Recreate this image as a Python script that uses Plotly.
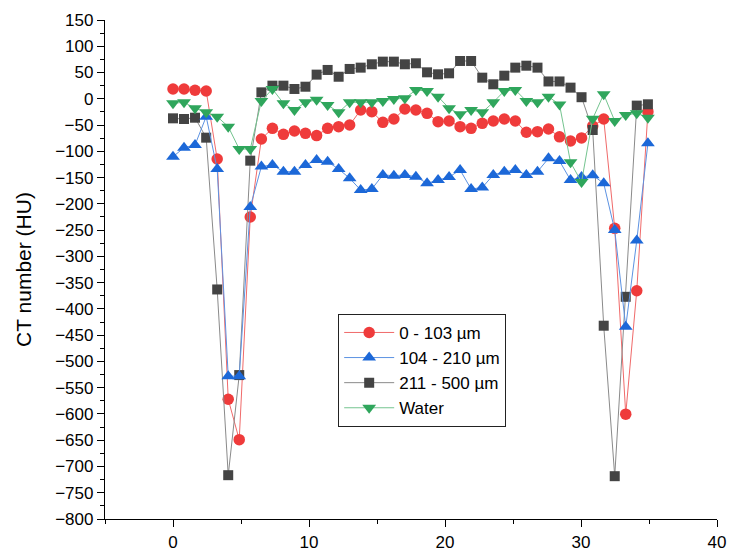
import plotly.graph_objects as go

x_pos = [0, 0.81, 1.62, 2.44, 3.25, 4.06, 4.87, 5.68, 6.50, 7.31, 8.12, 8.93, 9.74, 10.56,
         11.37, 12.18, 12.99, 13.80, 14.62, 15.43, 16.24, 17.05, 17.86, 18.68, 19.49, 20.30,
         21.11, 21.92, 22.74, 23.55, 24.36, 25.17, 25.98, 26.80, 27.61, 28.42, 29.23, 30.04,
         30.86, 31.67, 32.48, 33.29, 34.10, 34.92]

ct_0_103 = [18.7, 18.7, 16.2, 14.9, -114.7, -572, -649, -225, -76.6, -56.2, -67.7, -61.3,
            -65.8, -70, -56.2, -53, -50, -21.3, -24.5, -44.8, -38.5, -19.4, -21.3, -27.7,
            -43.5, -42.3, -53, -56.2, -46.7, -42.3, -38.5, -42.3, -63.8, -62.6, -57.5, -72.5,
            -80.4, -74.5, -52, -38.5, -246.7, -600.4, -365.5, -24.5]

ct_104_210 = [-110.3, -93, -88, -34, -133.7, -528, -528, -206, -129, -126, -138.8, -138.8,
              -126, -116.6, -119.8, -133.7, -151.4, -173.7, -171.8, -145, -146.4, -145,
              -148.3, -161, -154.7, -149, -135.6, -171.8, -169, -145, -138.8, -135.6, -145,
              -138.8, -113.4, -118.5, -154.7, -149, -145.5, -161, -250, -434, -270, -84.8]

ct_211_500 = [-37.2, -38.5, -36, -74, -363, -716.6, -526, -117.8, 12.3, 25, 25, 18.7, 23, 46,
              54.9, 42, 56.8, 59.3, 65.7, 70.7, 70.7, 65.7, 67.6, 50.4, 46.6, 48.5, 72, 72,
              40.2, 27.6, 44, 59.3, 63, 59.3, 33, 33, 21.2, 3, -59.4, -432, -718.5, -377,
              -13, -10.5]

ct_water = [-8.6, -6.7, -18, -25.7, -34, -53, -95.6, -95.6, -4.2, 18.7, -8.6, -21.3, -6.7,
            -2, -11.8, -25.7, -6.7, -6.7, -6.7, -4.2, -0.4, 0.9, 16.8, 14.9, 4, -18, -29.5,
            -21.3, -25.7, -6.7, 14.9, 16.8, -4.2, -6.7, 4, -11, -121, -158.5, -38, 8.6,
            -42.3, -30.9, -27.6, -36]

series_names = ["0 - 103 µm", "104 - 210 µm", "211 - 500 µm", "Water"]

x_ticks = [0, 10, 20, 30, 40]
y_ticks = list(range(-800, 151, 50))

FONT = "Liberation Sans, Arial, sans-serif"

fig = go.Figure()

def add(y, name, mcol, lcol, symbol, size, rank):
    fig.add_trace(go.Scatter(
        x=x_pos, y=y, name=name, mode="lines+markers",
        line=dict(color=lcol, width=1),
        marker=dict(color=mcol, symbol=symbol, size=size, line=dict(width=0)),
        legendrank=rank,
    ))

add(ct_0_103, series_names[0], "#EF3B3B", "#F06A6A", "circle", 11.5, 1)
add(ct_211_500, series_names[2], "#444444", "#8A8A8A", "square", 10, 3)
add(ct_104_210, series_names[1], "#1C68D8", "#5C92E2", "triangle-up", 12, 2)
add(ct_water, series_names[3], "#2FA65C", "#74C48F", "triangle-down", 12, 4)

# page body adds an 8px offset, margins compensate for it
fig.update_layout(
    width=735, height=553,
    margin=dict(l=97, r=26, t=12, b=42),
    paper_bgcolor="white", plot_bgcolor="white",
    font=dict(family=FONT, size=17, color="black"),
    showlegend=True,
    legend=dict(
        x=0.381, y=0.411, xanchor="left", yanchor="top",
        bgcolor="white", bordercolor="#222222", borderwidth=1,
        font=dict(family=FONT, size=17, color="black"),
        tracegroupgap=0, itemwidth=50,
    ),
)

fig.update_xaxes(
    range=[-5, 40], tickvals=x_ticks, ticktext=[str(v) for v in x_ticks],
    showgrid=False, zeroline=False, showline=True, linecolor="black", linewidth=1.3,
    ticks="outside", ticklen=7, tickwidth=1.3, tickcolor="black",
    minor=dict(dtick=5, tick0=0, ticks="outside", ticklen=4, tickwidth=1.2, tickcolor="black"),
    tickfont=dict(family=FONT, size=17, color="black"), automargin=False,
)

fig.update_yaxes(
    range=[-800, 150], tickvals=y_ticks, ticktext=[str(v).replace("-", "\u2212") for v in y_ticks],
    showgrid=False, zeroline=False, showline=True, linecolor="black", linewidth=1.3,
    ticks="outside", ticklen=7, tickwidth=1.3, tickcolor="black",
    minor=dict(dtick=25, tick0=0, ticks="outside", ticklen=4, tickwidth=1.2, tickcolor="black"),
    tickfont=dict(family=FONT, size=17, color="black"), automargin=False,
    title=dict(text="CT number (HU)", font=dict(family=FONT, size=21, color="black"), standoff=17),
)

fig.write_html("out.html")
